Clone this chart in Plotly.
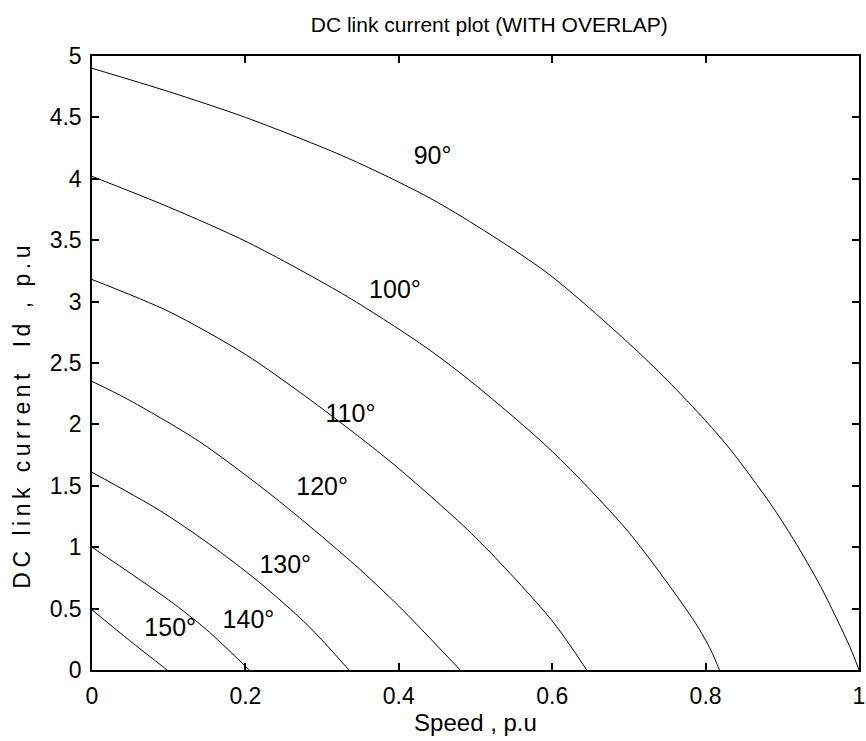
import plotly.graph_objects as go

# ---- data ----
x90 = [0, 0.1, 0.2, 0.333, 0.45, 0.592, 0.7, 0.75, 0.8, 0.833, 0.885, 0.915, 0.95, 0.988, 1.0]
y90 = [4.9, 4.71, 4.5, 4.17, 3.81, 3.24, 2.66, 2.36, 2.03, 1.79, 1.35, 1.06, 0.68, 0.19, 0.0]
x100 = [0, 0.1, 0.204, 0.333, 0.437, 0.5, 0.6, 0.7, 0.786, 0.807, 0.818]
y100 = [4.02, 3.77, 3.48, 3.04, 2.62, 2.32, 1.78, 1.12, 0.39, 0.16, 0.0]
x110 = [0, 0.1, 0.2, 0.278, 0.346, 0.4, 0.5, 0.6, 0.645]
y110 = [3.18, 2.92, 2.57, 2.23, 1.91, 1.64, 1.08, 0.4, 0.0]
x120 = [0, 0.045, 0.14, 0.239, 0.342, 0.4, 0.48]
y120 = [2.35, 2.21, 1.86, 1.40, 0.86, 0.52, 0.0]
x130 = [0, 0.088, 0.152, 0.217, 0.282, 0.335]
y130 = [1.61, 1.30, 1.03, 0.72, 0.36, 0.0]
x140 = [0, 0.1, 0.149, 0.205]
y140 = [1.0, 0.57, 0.33, 0.0]
x150 = [0, 0.049, 0.098]
y150 = [0.49, 0.24, 0.0]

angles = ["90°", "100°", "110°", "120°", "130°", "140°", "150°"]
label_x = [0.444, 0.395, 0.337, 0.300, 0.252, 0.204, 0.102]
label_y = [4.17, 3.08, 2.07, 1.48, 0.84, 0.39, 0.33]

xtick_vals = [0, 0.2, 0.4, 0.6, 0.8, 1.0]
xtick_text = ["0", "0.2", "0.4", "0.6", "0.8", "1"]
ytick_vals = [0, 0.5, 1, 1.5, 2, 2.5, 3, 3.5, 4, 4.5, 5]
ytick_text = ["0", "0.5", "1", "1.5", "2", "2.5", "3", "3.5", "4", "4.5", "5"]

curves = [(x90, y90), (x100, y100), (x110, y110), (x120, y120),
          (x130, y130), (x140, y140), (x150, y150)]

FONT = "Liberation Sans"

fig = go.Figure()
for (xs, ys), name in zip(curves, angles):
    fig.add_trace(go.Scatter(x=xs, y=ys, mode="lines", name=name,
                             line=dict(color="black", width=1, shape="spline", smoothing=0.8),
                             showlegend=False, hoverinfo="skip"))

fig.add_trace(go.Scatter(x=label_x, y=label_y, mode="text", text=angles,
                         textfont=dict(family=FONT, size=25, color="black"),
                         showlegend=False, hoverinfo="skip"))

axis_common = dict(showline=True, mirror="ticks", linecolor="black", linewidth=1.5,
                   ticks="inside", ticklen=7, tickwidth=1.5, tickcolor="black",
                   showgrid=False, zeroline=False,
                   tickfont=dict(family=FONT, size=23, color="black"))

fig.update_layout(
    width=866, height=741,
    margin=dict(l=92, r=1, t=56, b=71),
    paper_bgcolor="white", plot_bgcolor="white",
    title=dict(text="DC link current plot (WITH OVERLAP)",
               font=dict(family=FONT, size=21, color="black"),
               x=0.565, xanchor="center", y=1 - 25 / 741, yanchor="middle", yref="container"),
    xaxis=dict(range=[0, 1], tickvals=xtick_vals, ticktext=xtick_text,
               ticklabelstandoff=5, ticklabeloverflow="allow",
               title=dict(text="Speed , p.u", font=dict(family=FONT, size=24, color="black"), standoff=2),
               **axis_common),
    yaxis=dict(range=[0, 5], tickvals=ytick_vals, ticktext=ytick_text,
               ticklabelstandoff=4,
               **axis_common),
    annotations=[dict(text='<span style="letter-spacing:4.5px">DC link current  Id , p.u</span>',
                      xref="paper", yref="paper", x=-0.0906, y=0.415,
                      xanchor="center", yanchor="middle", textangle=-90, showarrow=False,
                      font=dict(family=FONT, size=23, color="black"))],
)

fig.write_html("out.html")
